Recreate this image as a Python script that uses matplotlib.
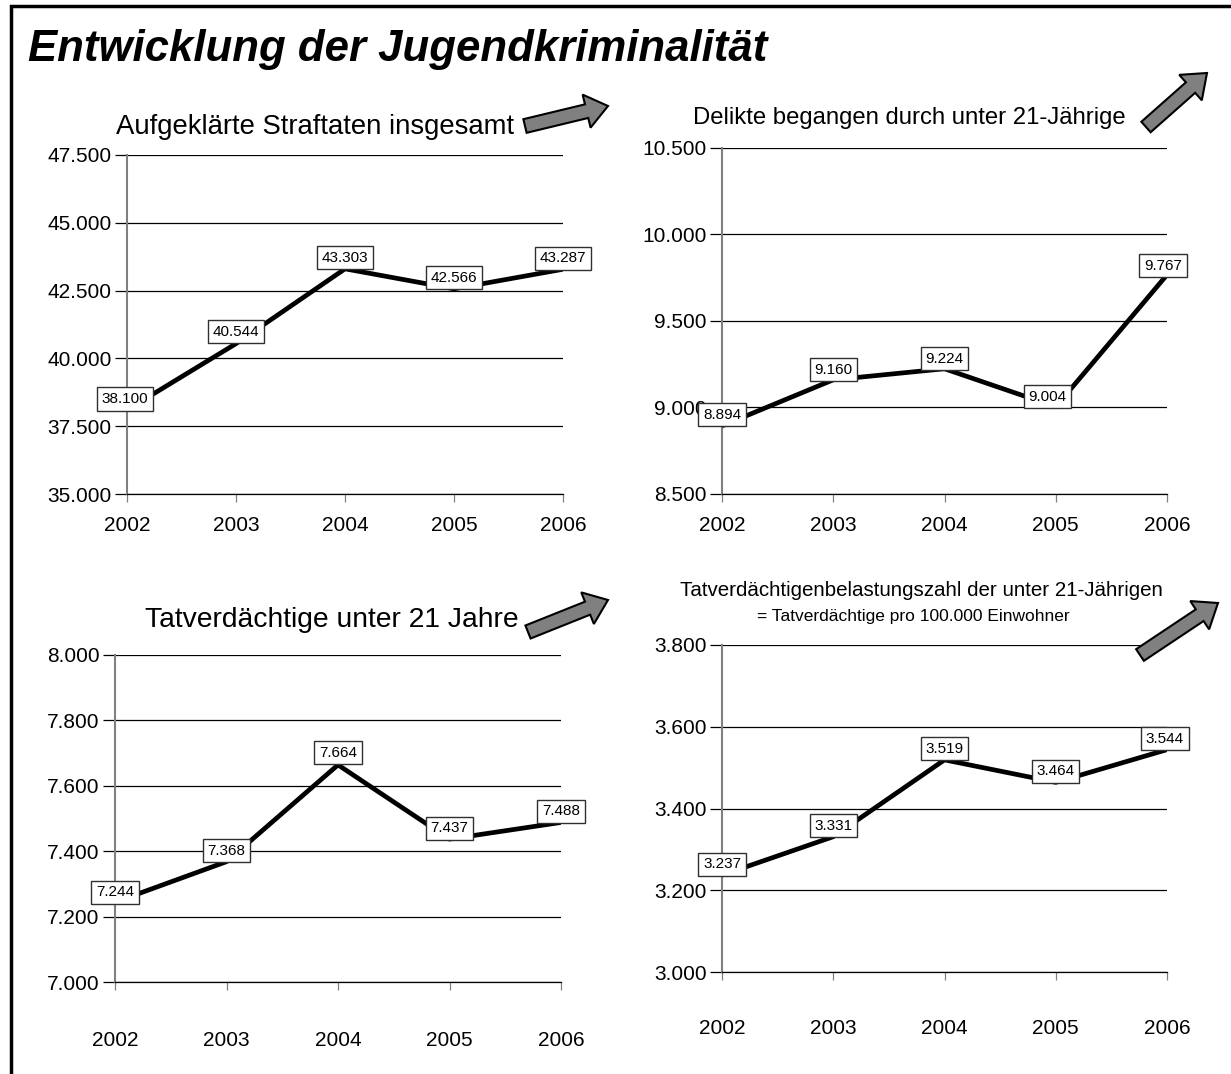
import matplotlib
matplotlib.use("Agg")
import matplotlib.pyplot as plt
from matplotlib.patches import FancyArrow
from matplotlib.ticker import FuncFormatter

plt.rcParams['font.family'] = ['Liberation Sans', 'DejaVu Sans']

years = [2002, 2003, 2004, 2005, 2006]

straftaten = [38100, 40544, 43303, 42566, 43287]
delikte_u21 = [8894, 9160, 9224, 9004, 9767]
tatverdaechtige_u21 = [7244, 7368, 7664, 7437, 7488]
tvbz_u21 = [3237, 3331, 3519, 3464, 3544]

titles = [
    "Aufgeklärte Straftaten insgesamt",
    "Delikte begangen durch unter 21-Jährige",
    "Tatverdächtige unter 21 Jahre",
    "Tatverdächtigenbelastungszahl der unter 21-Jährigen",
]
subtitle = "= Tatverdächtige pro 100.000 Einwohner"
main_title = "Entwicklung der Jugendkriminalität"

yticks_1 = [35000, 37500, 40000, 42500, 45000, 47500]
yticks_2 = [8500, 9000, 9500, 10000, 10500]
yticks_3 = [7000, 7200, 7400, 7600, 7800, 8000]
yticks_4 = [3000, 3200, 3400, 3600, 3800]

W, H = 1231, 1074
fig = plt.figure(figsize=(W / 100, H / 100), dpi=100)


def px_axes(x0, x1, ytop, ybot):
    # axes rectangle from pixel coords
    return fig.add_axes([x0 / W, 1 - ybot / H, (x1 - x0) / W, (ybot - ytop) / H])


def de(v, pos=None):
    return f"{v:,.0f}".replace(",", ".")


def panel(ax, values, yticks, offsets, xpad=9):
    ax.plot(years, values, color='black', lw=3.4, solid_capstyle='butt', zorder=3)
    ax.set_xlim(years[0], years[-1])
    ax.set_ylim(yticks[0], yticks[-1])
    ax.set_xticks(years)
    ax.set_yticks(yticks)
    ax.yaxis.set_major_formatter(FuncFormatter(de))
    ax.grid(axis='y', color='black', lw=0.9)
    ax.set_axisbelow(True)
    for s in ['top', 'right']:
        ax.spines[s].set_visible(False)
    ax.spines['left'].set_color('#808080')
    ax.spines['left'].set_linewidth(1.5)
    ax.spines['bottom'].set_color('black')
    ax.spines['bottom'].set_linewidth(0.9)
    ax.tick_params(axis='y', length=9, width=0.9, pad=2, labelsize=15)
    ax.tick_params(axis='x', length=6, width=0.9, color='#808080', pad=xpad, labelsize=15)
    for x, v, (dx, dy) in zip(years, values, offsets):
        ax.annotate(de(v), (x, v), xytext=(dx, dy), textcoords='offset pixels',
                    ha='center', va='center', fontsize=11, zorder=5,
                    bbox=dict(boxstyle='square,pad=0.3', fc='white', ec='#303030', lw=1))


ax1 = px_axes(127, 563, 155, 494)
panel(ax1, straftaten, yticks_1, [(-2, 11), (0, 12), (0, 11), (0, 11), (0, 11)], xpad=10)

ax2 = px_axes(722, 1167, 148, 494)
panel(ax2, delikte_u21, yticks_2, [(0, 11), (0, 10), (0, 10), (-8, 10), (-4, 9)], xpad=10)

ax3 = px_axes(115, 561, 655, 982)
panel(ax3, tatverdaechtige_u21, yticks_3, [(0, 10), (0, 11), (0, 12), (0, 11), (0, 11)], xpad=29)

ax4 = px_axes(722, 1167, 645, 972)
panel(ax4, tvbz_u21, yticks_4, [(0, 11), (0, 11), (0, 11), (0, 11), (-2, 11)], xpad=28)

# overlay in pixel coords for titles, arrows, frame
ov = fig.add_axes([0, 0, 1, 1], zorder=10)
ov.set_xlim(0, W)
ov.set_ylim(H, 0)
ov.axis('off')
ov.patch.set_alpha(0)

ov.text(28, 49, main_title, fontsize=31.5, fontweight='bold', fontstyle='italic', va='center')
ov.text(116, 127, titles[0], fontsize=19.8, va='center')
ov.text(693, 118, titles[1], fontsize=17.2, va='center')
ov.text(145, 620, titles[2], fontsize=20.3, va='center')
ov.text(680, 590, titles[3], fontsize=14.8, va='center')
ov.text(757, 617, subtitle, fontsize=12.5, va='center')

arrows = [((525, 126), (608, 106)), ((1146, 127), (1207, 73)),
          ((528, 632), (608, 600)), ((1140, 655), (1218, 603))]
for (x0, y0), (x1, y1) in arrows:
    ov.add_patch(FancyArrow(x0, y0, x1 - x0, y1 - y0, width=14, head_width=34,
                            head_length=22, length_includes_head=True,
                            fc='#808080', ec='black', lw=1.5, zorder=11))

ov.plot([11, 11, W], [H, 6, 6], color='black', lw=2.5, solid_joinstyle='miter', clip_on=False)

fig.savefig("out.png", dpi=100)
